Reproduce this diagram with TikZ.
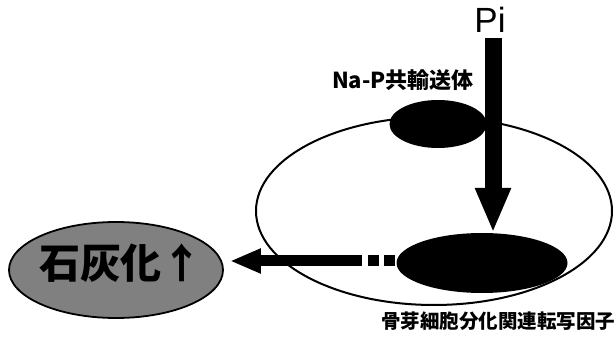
\documentclass[tikz,border=0pt]{standalone}
\usepackage{fontspec}
\usetikzlibrary{shapes.geometric,arrows.meta}
\newfontfamily\jp{Noto Sans CJK JP}
\newfontfamily\lsans{Liberation Sans}
\tikzset{
  blob/.style={ellipse, fill=black, inner sep=0pt},
  cellwall/.style={ellipse, draw=black, line width=2pt, inner sep=0pt},
  label/.style={inner sep=0pt, font=\jp\bfseries},
}
\begin{document}
\begin{tikzpicture}[x=1pt,y=-1pt]
\useasboundingbox[fill=white] (0,0) rectangle (614,342);
% cell
\node[cellwall, minimum width=356pt, minimum height=188pt] (cell) at (434,211) {};
% transporter
\node[blob, minimum width=97pt, minimum height=48pt] (napt) at (438,124) {};
% transcription factor
\node[blob, minimum width=171pt, minimum height=60pt] (tf) at (482,263) {};
% calcification
\node[ellipse, draw=black, line width=1.8pt, fill=black!50, inner sep=0pt,
      minimum width=214pt, minimum height=96pt] (calc) at (116,270) {};
\node[label, font=\jp\bfseries\fontsize{41}{41}\selectfont] (calct) at (121,263) {石灰化↑};
% labels
\node[inner sep=0pt, anchor=base, font=\lsans\fontsize{35}{35}\selectfont] (pi) at (490,33) {Pi};
\node[label, font=\jp\bfseries\fontsize{22}{22}\selectfont] (naptl) at (403,80) {Na-P共輸送体};
\node[label, font=\jp\bfseries\fontsize{19.5}{20}\selectfont] (tfl) at (498,321) {骨芽細胞分化関連転写因子};
% Pi arrow
\coordinate (pistart) at (493,38);
\draw[line width=17pt, -{Triangle[width=33pt,length=45pt]}] (pistart) -- (pistart |- tf.north);
% output arrow
\coordinate (hs) at (362,261);
\coordinate (hd) at (395,261);
\draw[line width=11pt, dash pattern=on 11pt off 5pt] (hd) -- (hs -| 366,0);
\draw[line width=11pt, -{Triangle[width=23pt,length=31pt]}, shorten >=6pt] (hs) -- (hs -| calc.east);
\end{tikzpicture}
\end{document}
